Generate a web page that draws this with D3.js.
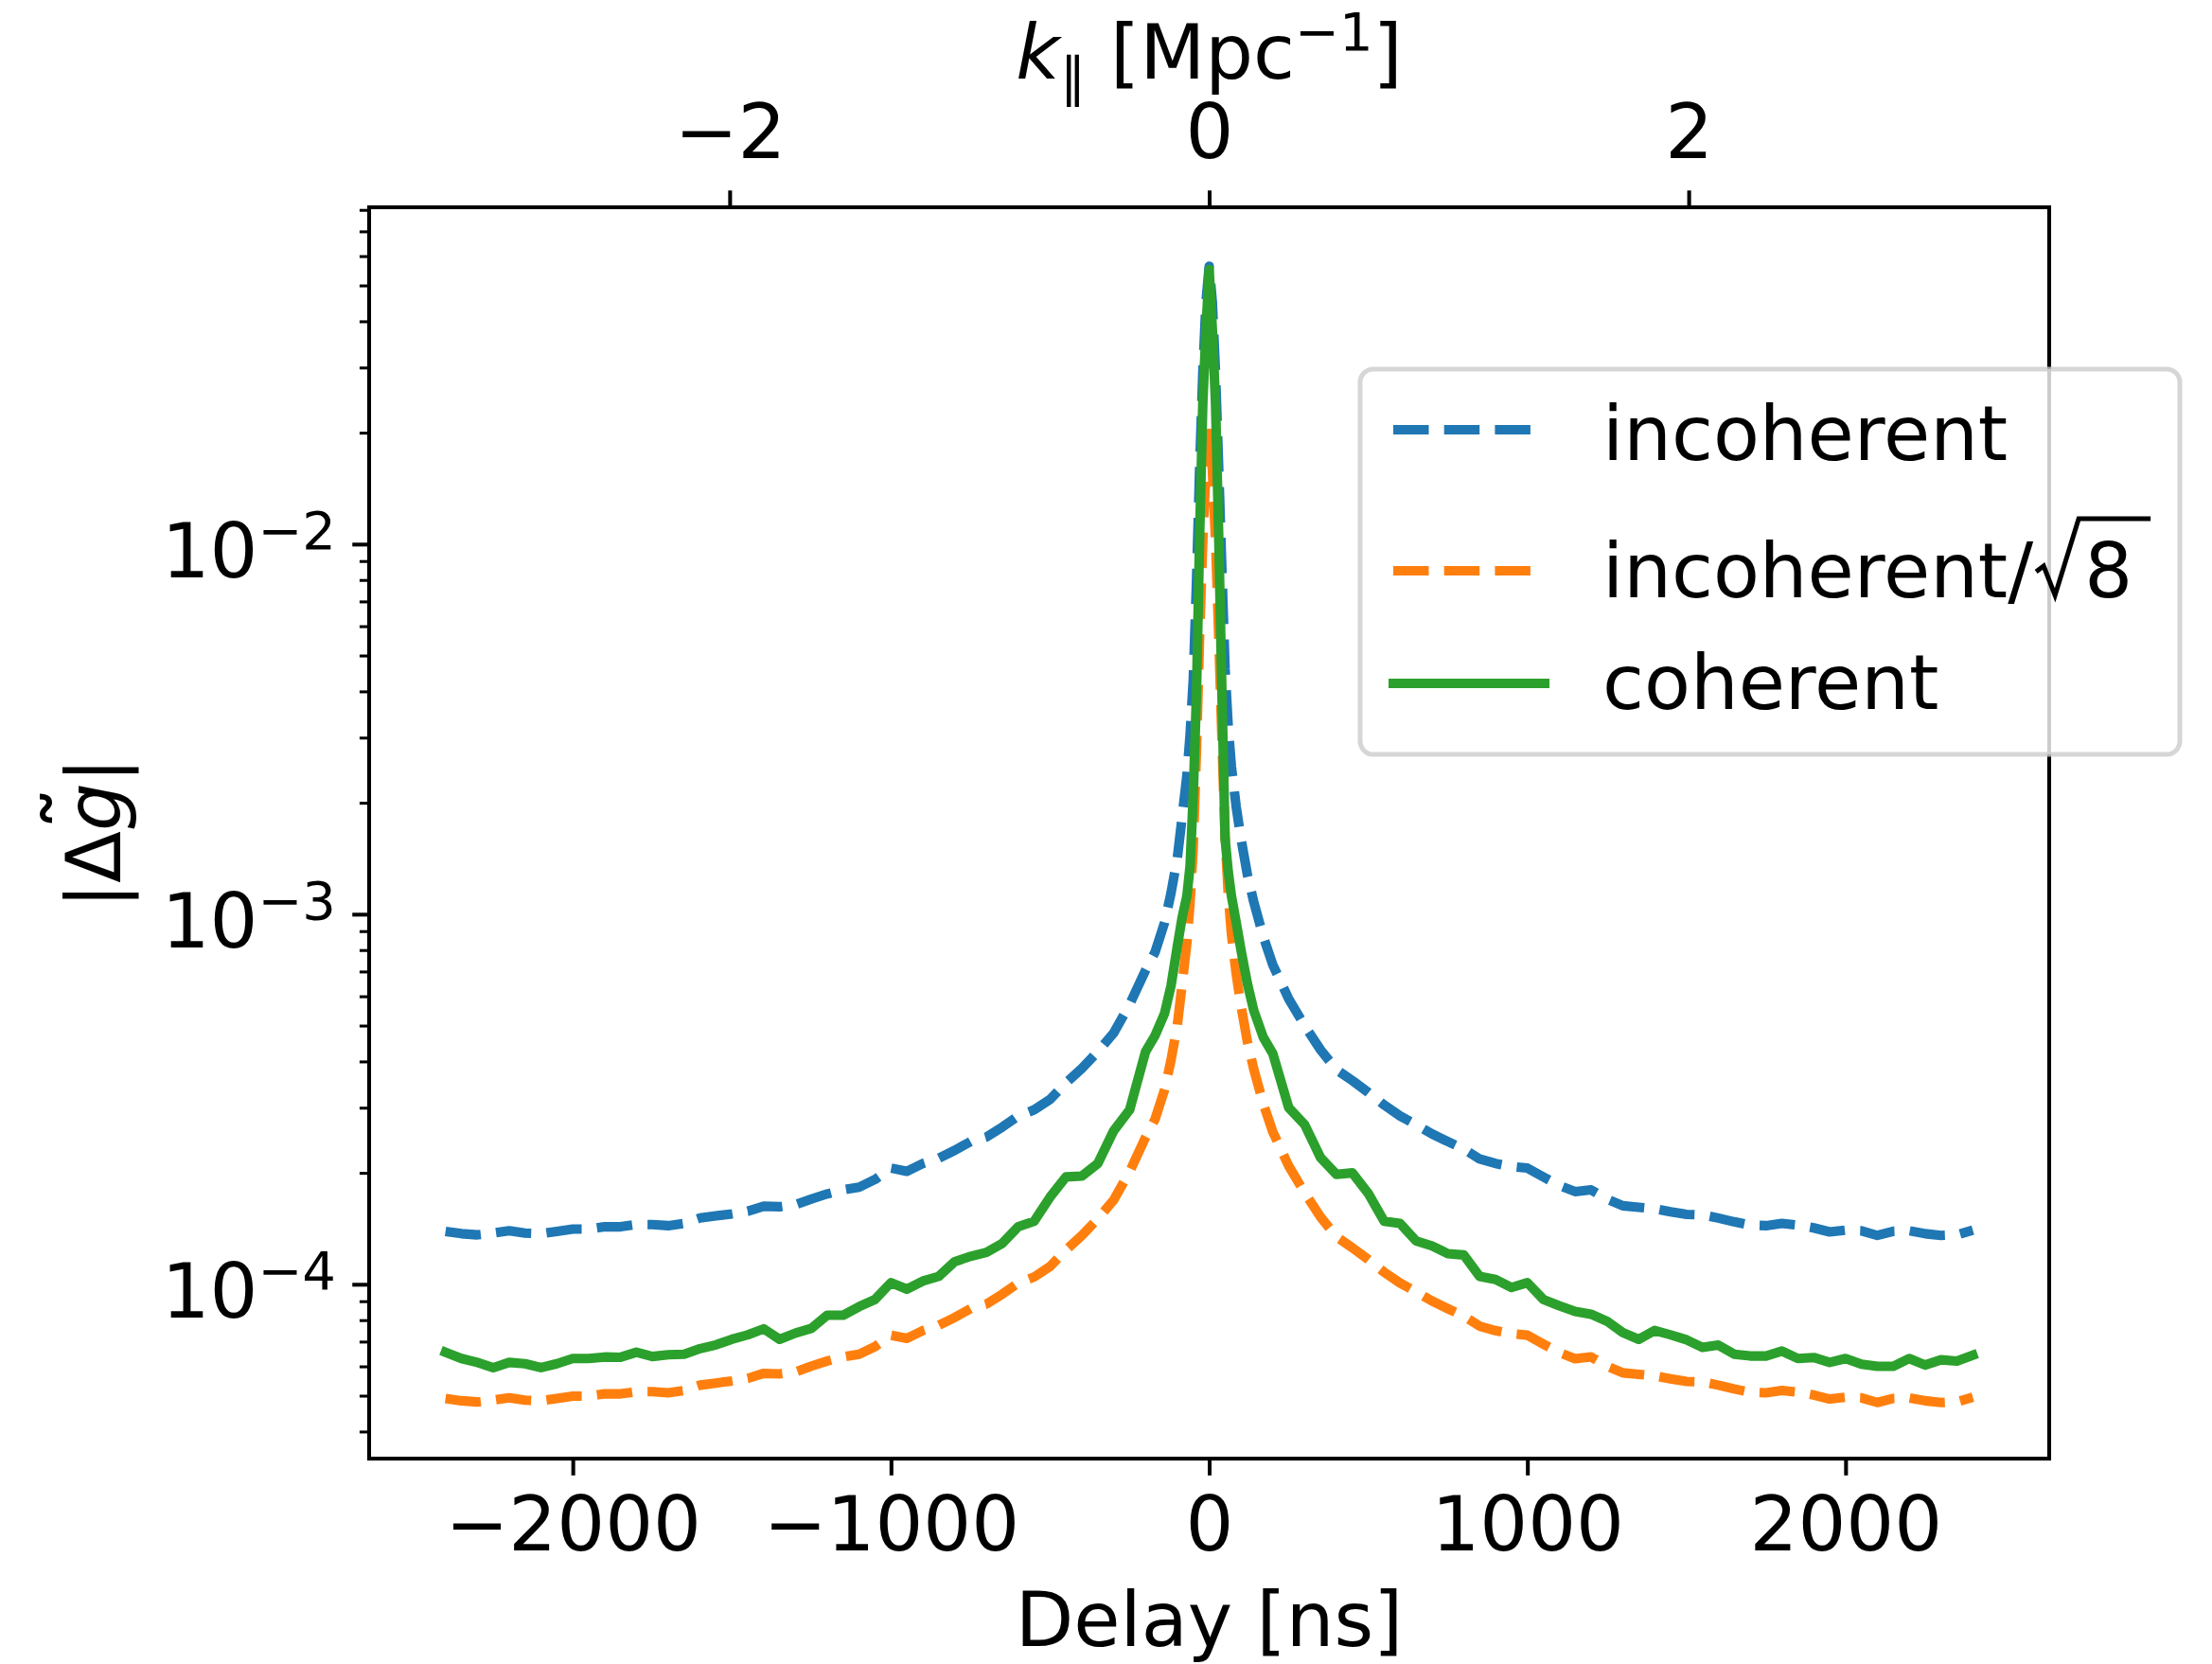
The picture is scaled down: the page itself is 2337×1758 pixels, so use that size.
<!DOCTYPE html>
<html><head><meta charset="utf-8">
<script src="https://cdn.jsdelivr.net/npm/d3@7/dist/d3.min.js"></script>
<style>
html,body{margin:0;padding:0;background:#fff}
svg{display:block}
text{font-family:"DejaVu Sans";fill:#000}
</style>
</head><body>
<svg id="chart" width="2337" height="1758"></svg>
<script>
// ---------------- data ----------------
const delays = [-2400,-2350,-2300,-2250,-2200,-2150,-2100,-2050,-2000,-1950,-1900,-1850,-1800,-1750,-1700,-1650,-1600,-1550,-1500,-1450,-1400,-1350,-1300,-1250,-1200,-1150,-1100,-1050,-1000,-950,-900,-850,-800,-750,-700,-650,-600,-550,-500,-450,-400,-350,-300,-250,-200,
 -170,-140,-120,-100,-85,-70,-60,-50,-40,-30,-20,-10,0,10,20,30,40,50,60,70,85,100,120,140,170,
 200,250,300,350,400,450,500,550,600,650,700,750,800,850,900,950,1000,1050,1100,1150,1200,1250,1300,1350,1400,1450,1500,1550,1600,1650,1700,1750,1800,1850,1900,1950,2000,2050,2100,2150,2200,2250,2300,2350,2400];

const incoherent = [1.39e-4,1.37e-4,1.36e-4,1.375e-4,1.395e-4,1.375e-4,1.37e-4,1.39e-4,1.41e-4,1.41e-4,1.43e-4,1.43e-4,1.45e-4,1.45e-4,1.44e-4,1.46e-4,1.51e-4,1.53e-4,1.55e-4,1.575e-4,1.625e-4,1.62e-4,1.64e-4,1.70e-4,1.755e-4,1.80e-4,1.83e-4,1.92e-4,2.06e-4,2.02e-4,2.12e-4,2.19e-4,2.30e-4,2.43e-4,2.50e-4,2.66e-4,2.85e-4,2.96e-4,3.16e-4,3.50e-4,3.83e-4,4.25e-4,4.78e-4,5.70e-4,7.05e-4,
 7.9e-4,9.5e-4,1.14e-3,1.42e-3,1.83e-3,2.37e-3,3.05e-3,4.3e-3,7.8e-3,0.016,0.029,0.045,0.0563,0.045,0.029,0.016,0.0085,4.6e-3,3.2e-3,2.5e-3,1.95e-3,1.6e-3,1.28e-3,1.08e-3,8.7e-4,
 7.3e-4,5.9e-4,5.0e-4,4.3e-4,3.8e-4,3.55e-4,3.3e-4,3.05e-4,2.85e-4,2.7e-4,2.55e-4,2.43e-4,2.32e-4,2.18e-4,2.12e-4,2.08e-4,2.06e-4,1.95e-4,1.85e-4,1.78e-4,1.80e-4,1.70e-4,1.63e-4,1.615e-4,1.60e-4,1.57e-4,1.545e-4,1.54e-4,1.51e-4,1.475e-4,1.445e-4,1.44e-4,1.46e-4,1.445e-4,1.42e-4,1.385e-4,1.40e-4,1.395e-4,1.355e-4,1.39e-4,1.395e-4,1.37e-4,1.355e-4,1.36e-4,1.40e-4];

const incoherentSqrt8 = [4.914e-5,4.844e-5,4.808e-5,4.861e-5,4.932e-5,4.861e-5,4.844e-5,4.914e-5,4.985e-5,4.985e-5,5.056e-5,5.056e-5,5.127e-5,5.127e-5,5.091e-5,5.162e-5,5.339e-5,5.409e-5,5.480e-5,5.569e-5,5.745e-5,5.728e-5,5.798e-5,6.010e-5,6.205e-5,6.364e-5,6.470e-5,6.788e-5,7.283e-5,7.142e-5,7.495e-5,7.743e-5,8.132e-5,8.591e-5,8.839e-5,9.405e-5,1.0076e-4,1.0465e-4,1.1172e-4,1.2374e-4,1.3541e-4,1.5026e-4,1.6900e-4,2.0153e-4,2.4926e-4,
 2.793e-4,3.359e-4,4.031e-4,5.020e-4,6.470e-4,8.379e-4,1.078e-3,1.520e-3,2.758e-3,5.657e-3,0.01025,0.01591,0.01991,0.01591,0.01025,5.657e-3,3.005e-3,1.626e-3,1.131e-3,8.839e-4,6.894e-4,5.657e-4,4.526e-4,3.818e-4,3.076e-4,
 2.581e-4,2.086e-4,1.768e-4,1.520e-4,1.344e-4,1.255e-4,1.167e-4,1.078e-4,1.0076e-4,9.546e-5,9.016e-5,8.591e-5,8.202e-5,7.708e-5,7.495e-5,7.354e-5,7.283e-5,6.894e-5,6.541e-5,6.293e-5,6.364e-5,6.010e-5,5.763e-5,5.710e-5,5.657e-5,5.551e-5,5.462e-5,5.445e-5,5.339e-5,5.215e-5,5.109e-5,5.091e-5,5.162e-5,5.109e-5,5.020e-5,4.897e-5,4.950e-5,4.932e-5,4.791e-5,4.914e-5,4.932e-5,4.844e-5,4.791e-5,4.808e-5,4.950e-5];

const coherent = [6.55e-5,6.3e-5,6.15e-5,5.95e-5,6.15e-5,6.1e-5,5.95e-5,6.1e-5,6.3e-5,6.3e-5,6.36e-5,6.35e-5,6.55e-5,6.38e-5,6.45e-5,6.47e-5,6.7e-5,6.86e-5,7.1e-5,7.3e-5,7.58e-5,7.1e-5,7.38e-5,7.6e-5,8.25e-5,8.25e-5,8.7e-5,9.1e-5,1.01e-4,9.7e-5,1.02e-4,1.05e-4,1.15e-4,1.19e-4,1.22e-4,1.29e-4,1.43e-4,1.48e-4,1.72e-4,1.95e-4,1.96e-4,2.12e-4,2.6e-4,2.96e-4,4.25e-4,
 4.7e-4,5.4e-4,6.4e-4,8.2e-4,9.8e-4,1.12e-3,1.35e-3,2.1e-3,3.9e-3,0.0105,0.024,0.038,0.0552,0.038,0.024,0.0105,4.0e-3,1.6e-3,1.3e-3,1.12e-3,9.5e-4,8.0e-4,6.5e-4,5.5e-4,4.65e-4,
 4.2e-4,3.0e-4,2.7e-4,2.2e-4,1.98e-4,2.0e-4,1.76e-4,1.48e-4,1.46e-4,1.31e-4,1.27e-4,1.21e-4,1.2e-4,1.05e-4,1.03e-4,9.8e-5,1.01e-4,9.1e-5,8.75e-5,8.45e-5,8.3e-5,7.95e-5,7.4e-5,7.1e-5,7.5e-5,7.3e-5,7.08e-5,6.75e-5,6.85e-5,6.47e-5,6.4e-5,6.4e-5,6.6e-5,6.3e-5,6.34e-5,6.15e-5,6.3e-5,6.08e-5,6.0e-5,6.0e-5,6.3e-5,6.05e-5,6.25e-5,6.2e-5,6.43e-5];

const seriesNames = ["incoherent", "incoherent/\u221A8", "coherent"];
const seriesColors = ["#1f77b4", "#ff7f0e", "#2ca02c"];
const seriesDashed = [true, true, false];

const delayTicks = [-2000, -1000, 0, 1000, 2000];
const kTicks = [-2, 0, 2];
const yMajorTicks = [1e-4, 1e-3, 1e-2];
const yMajorExponents = ["\u22124", "\u22123", "\u22122"];
const nsPerInvMpc = 753.5;   // delay (ns) corresponding to k = 1 Mpc^-1
const delayLimit = 2640;
const yLimits = [3.38e-5, 0.0813];

(function draw() {
  const plot = {left: 390, right: 2165, top: 219, bottom: 1541};
  const FS = 80;
  const LW = 10.1;
  const dash = "37.5,16.2";

  const svg = d3.select("#chart");

  const x = d3.scaleLinear().domain([-delayLimit, delayLimit]).range([plot.left, plot.right]);
  const xTop = d3.scaleLinear().domain([-delayLimit / nsPerInvMpc, delayLimit / nsPerInvMpc]).range([plot.left, plot.right]);
  const y = d3.scaleLog().domain(yLimits).range([plot.bottom, plot.top]);

  svg.append("defs").append("clipPath").attr("id", "clip")
    .append("rect").attr("x", plot.left).attr("y", plot.top)
    .attr("width", plot.right - plot.left).attr("height", plot.bottom - plot.top);

  // lines
  const series = [incoherent, incoherentSqrt8, coherent];
  const line = d3.line().x((d, i) => x(delays[i])).y(d => y(d));
  const gLines = svg.append("g").attr("clip-path", "url(#clip)");
  series.forEach((vals, k) => {
    gLines.append("path").datum(vals)
      .attr("d", line)
      .attr("fill", "none")
      .attr("stroke", seriesColors[k])
      .attr("stroke-width", LW)
      .attr("stroke-linejoin", "round")
      .attr("stroke-linecap", seriesDashed[k] ? "butt" : "square")
      .attr("stroke-dasharray", seriesDashed[k] ? dash : null);
  });

  function styleAxis(g, w) {
    g.select(".domain").remove();
    g.selectAll(".tick line").attr("stroke", "#000").attr("stroke-width", w);
  }
  const gx = svg.append("g").attr("transform", `translate(0,${plot.bottom})`)
    .call(d3.axisBottom(x).tickValues(delayTicks).tickSize(17.75).tickPadding(0).tickFormat(""));
  styleAxis(gx, 4.06);
  gx.selectAll(".tick").append("text")
    .attr("y", 97).attr("text-anchor", "middle").attr("font-size", FS)
    .text(d => d < 0 ? "\u2212" + Math.abs(d) : String(d));

  const gxt = svg.append("g").attr("transform", `translate(0,${plot.top})`)
    .call(d3.axisTop(xTop).tickValues(kTicks).tickSize(17.75).tickFormat(""));
  styleAxis(gxt, 4.06);
  gxt.selectAll(".tick").append("text")
    .attr("y", -52).attr("text-anchor", "middle").attr("font-size", FS)
    .text(d => d < 0 ? "\u2212" + Math.abs(d) : String(d));

  const yMinor = [];
  for (let e = -5; e <= -1; e++) for (let m = 2; m <= 9; m++) {
    const v = m * Math.pow(10, e);
    if (v >= yLimits[0] && v <= yLimits[1]) yMinor.push(v);
  }
  const gyMinor = svg.append("g").attr("transform", `translate(${plot.left},0)`)
    .call(d3.axisLeft(y).tickValues(yMinor).tickSize(10.1).tickFormat(""));
  styleAxis(gyMinor, 3.04);
  const gy = svg.append("g").attr("transform", `translate(${plot.left},0)`)
    .call(d3.axisLeft(y).tickValues(yMajorTicks).tickSize(17.75).tickFormat(""));
  styleAxis(gy, 4.06);
  gy.selectAll(".tick").each(function(d, i) {
    const t = d3.select(this).append("text")
      .attr("x", -35).attr("y", 35).attr("text-anchor", "end").attr("font-size", FS);
    t.append("tspan").text("10");
    t.append("tspan").attr("font-size", 56).attr("dy", -30).text(yMajorExponents[i]);
  });

  svg.append("rect").attr("x", plot.left).attr("y", plot.top)
    .attr("width", plot.right - plot.left).attr("height", plot.bottom - plot.top)
    .attr("fill", "none").attr("stroke", "#000").attr("stroke-width", 4.06);

  // axis labels
  svg.append("text").attr("x", (plot.left + plot.right) / 2).attr("y", 1739)
    .attr("text-anchor", "middle").attr("font-size", FS).text("Delay [ns]");

  const topLabel = svg.append("text").attr("x", (plot.left + plot.right) / 2).attr("y", 83)
    .attr("text-anchor", "middle").attr("font-size", FS);
  topLabel.append("tspan").attr("font-style", "italic").text("k");
  topLabel.append("tspan").attr("font-size", 56).attr("dy", 18).text("\u2225");
  topLabel.append("tspan").attr("dy", -18).text(" [Mpc");
  topLabel.append("tspan").attr("font-size", 56).attr("dy", -30).text("\u22121");
  topLabel.append("tspan").attr("dy", 30).text("]");

  const yl = svg.append("text").attr("transform", "translate(127,880) rotate(-90)")
    .attr("text-anchor", "middle").attr("font-size", FS);
  yl.append("tspan").text("|\u0394");
  yl.append("tspan").attr("font-style", "italic").text("g");
  yl.append("tspan").text("|");
  svg.append("text").attr("transform", "translate(117,854) rotate(-90)")
    .attr("text-anchor", "middle").attr("font-size", 96).text("\u02DC");

  // legend
  const lg = svg.append("g");
  lg.append("rect").attr("x", 1437).attr("y", 390).attr("width", 866).attr("height", 407)
    .attr("rx", 14).attr("ry", 14)
    .attr("fill", "rgba(255,255,255,0.8)").attr("stroke", "rgba(204,204,204,0.8)").attr("stroke-width", 5);
  const legendY = [454, 603, 722];
  const legendBase = [486, 631, 749];
  seriesNames.forEach((name, k) => {
    lg.append("line").attr("x1", seriesDashed[k] ? 1472 : 1467).attr("x2", seriesDashed[k] ? 1632 : 1637)
      .attr("y1", legendY[k]).attr("y2", legendY[k])
      .attr("stroke", seriesColors[k]).attr("stroke-width", LW)
      .attr("stroke-dasharray", seriesDashed[k] ? dash : null);
    if (k === 1) {
      const parts = name.split("\u221A");
      const t = lg.append("text").attr("x", 1693).attr("y", legendBase[k]).attr("font-size", FS).text(parts[0]);
      const E = 1693 + t.node().getComputedTextLength();
      const b = legendBase[k];
      lg.append("path")
        .attr("d", `M${E + 3},${b - 27} L${E + 11},${b - 33} L${E + 23},${b - 2} L${E + 48},${b - 83} L${E + 124},${b - 83}`)
        .attr("fill", "none").attr("stroke", "#000").attr("stroke-width", 5)
        .attr("stroke-linejoin", "miter");
      lg.append("text").attr("x", E + 54).attr("y", b).attr("font-size", FS).text(parts[1]);
    } else {
      lg.append("text").attr("x", 1693).attr("y", legendBase[k]).attr("font-size", FS).text(name);
    }
  });
})();
</script>
</body></html>
